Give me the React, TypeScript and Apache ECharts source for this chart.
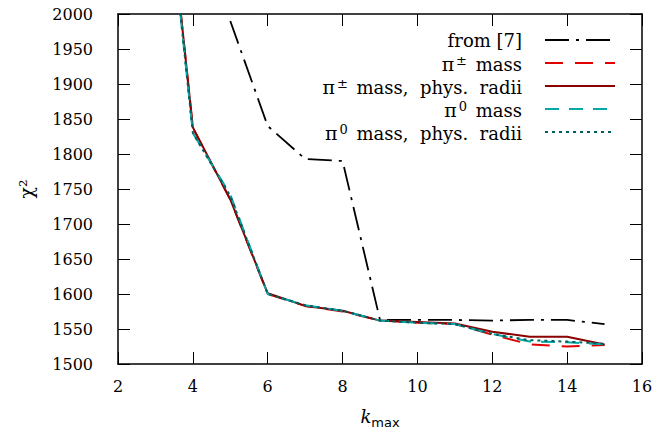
import React, { useEffect, useRef } from "react";
import * as echarts from "echarts";

const kValues = [3, 4, 5, 6, 7, 8, 9, 10, 11, 12, 13, 14, 15];
const from7 = [null, null, 1990, 1840, 1793, 1790, 1563, 1563, 1563, 1562, 1563, 1563, 1557];
const piPmMass = [2345, 1837, 1735, 1600, 1583, 1575, 1562, 1559, 1557, 1542, 1528, 1525, 1527];
const piPmMassPhys = [2345, 1838, 1735, 1601, 1583, 1576, 1562, 1560, 1558, 1546, 1539, 1539, 1528];
const pi0Mass = [2340, 1830, 1742, 1600, 1584, 1576, 1562, 1559, 1557, 1543, 1532, 1531, 1528];
const pi0MassPhys = [2340, 1830, 1740, 1600, 1584, 1576, 1562, 1559, 1557, 1543, 1534, 1532, 1529];

const xTicks = { min: 2, max: 16, interval: 2 };
const yTicks = { min: 1500, max: 2000, interval: 50 };

const legendLabels = [
  "from [7]",
  "{p|π}{s|±}{t| mass}",
  "{p|π}{s|±}{t| mass,  phys.  radii}",
  "{p|π}{s|0}{t| mass}",
  "{p|π}{s|0}{t| mass,  phys.  radii}",
];

const SERIF = "DejaVu Serif";

const styles = [
  { color: "#000000", width: 1.8, type: [24, 7, 3, 7] },
  { color: "#e00000", width: 2, type: [18, 12] },
  { color: "#8b0000", width: 2, type: "solid" },
  { color: "#00a8a8", width: 2, type: [14, 10] },
  { color: "#005f5f", width: 2, type: [3, 4] },
];

const seriesValues = [from7, piPmMass, piPmMassPhys, pi0Mass, pi0MassPhys];
const seriesNames = [
  "from [7]",
  "π± mass",
  "π± mass, phys. radii",
  "π0 mass",
  "π0 mass, phys. radii",
];

export default function App() {
  const ref = useRef<HTMLDivElement>(null);
  useEffect(() => {
    if (!ref.current) return;
    const chart = echarts.init(ref.current, undefined, { renderer: "svg", width: 668, height: 434 });
    const axisLine = { show: true, lineStyle: { color: "#000", width: 1.5 } };
    const axisTick = { show: true, inside: true, length: 12, lineStyle: { color: "#000", width: 1 } };
    const rich = {
      p: { fontFamily: SERIF, fontSize: 19, color: "#000", lineHeight: 20, verticalAlign: "bottom", padding: [0, 1, 0, 0] },
      t: { fontFamily: SERIF, fontSize: 18, color: "#000", lineHeight: 20, verticalAlign: "bottom" },
      s: { fontFamily: SERIF, fontSize: 13, color: "#000", lineHeight: 20, verticalAlign: "top", padding: [1, 3, 0, 1] },
    };
    const rowY = [40, 63, 86, 109, 132];
    const graphics: any[] = [];
    legendLabels.forEach((lab, i) => {
      graphics.push({
        type: "text",
        x: 522,
        y: rowY[i],
        style: {
          text: lab,
          rich,
          fontFamily: SERIF,
          fontSize: 18,
          fill: "#000",
          align: "right",
          verticalAlign: "middle",
        },
      });
      const st = styles[i];
      graphics.push({
        type: "line",
        shape: { x1: 545, y1: rowY[i], x2: 615, y2: rowY[i] },
        style: {
          stroke: st.color,
          lineWidth: st.width,
          lineDash: st.type === "solid" ? null : st.type,
        },
      });
    });

    chart.setOption({
      animation: false,
      grid: { left: 118, right: 26, top: 14, bottom: 70, containLabel: false },
      xAxis: [
        {
          type: "value",
          ...xTicks,
          position: "bottom",
          axisLine,
          axisTick,
          splitLine: { show: false },
          axisLabel: { color: "#000", fontFamily: SERIF, fontSize: 16, margin: 14, formatter: (v: number) => String(v) },
          name: "{k|k}{m|max}",
          nameLocation: "middle",
          nameGap: 43,
          nameTextStyle: {
            rich: {
              k: { fontFamily: SERIF, fontStyle: "italic", fontSize: 18, color: "#000", lineHeight: 22, verticalAlign: "top" },
              m: { fontFamily: "DejaVu Sans", fontSize: 13, color: "#000", lineHeight: 22, verticalAlign: "bottom" },
            },
          },
        },
        {
          type: "value",
          ...xTicks,
          position: "top",
          axisLine,
          axisTick,
          splitLine: { show: false },
          axisLabel: { show: false },
        },
      ],
      yAxis: [
        {
          type: "value",
          ...yTicks,
          position: "left",
          axisLine,
          axisTick,
          splitLine: { show: false },
          axisLabel: { color: "#000", fontFamily: SERIF, fontSize: 16, margin: 25, formatter: (v: number) => String(v) },
          name: "χ²",
          nameLocation: "middle",
          nameGap: 83,
          nameTextStyle: { fontFamily: SERIF, fontSize: 19, color: "#000" },
        },
        {
          type: "value",
          ...yTicks,
          position: "right",
          axisLine,
          axisTick,
          splitLine: { show: false },
          axisLabel: { show: false },
        },
      ],
      series: seriesValues.map((vals, i) => ({
        name: seriesNames[i],
        type: "line",
        xAxisIndex: 0,
        yAxisIndex: 0,
        symbol: "none",
        clip: true,
        data: kValues.map((k, j) => [k, vals[j]]),
        lineStyle: { color: styles[i].color, width: styles[i].width, type: styles[i].type },
        z: 2 + i,
      })),
      graphic: graphics,
    });
    return () => chart.dispose();
  }, []);
  return (
    <div
      ref={ref}
      style={{ position: "fixed", left: 0, top: 0, width: 668, height: 434, background: "#fff" }}
    />
  );
}
